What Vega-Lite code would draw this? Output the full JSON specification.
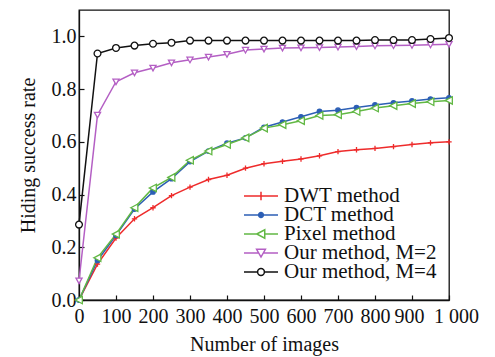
{
  "$schema": "https://vega.github.io/schema/vega-lite/v6.json",
  "autosize": "none",
  "width": 370,
  "height": 290,
  "padding": {"left": 79, "top": 10, "right": 46, "bottom": 57},
  "background": "white",
  "config": {
    "view": {"stroke": "#111111", "strokeWidth": 1.3},
    "font": "Liberation Serif",
    "axis": {
      "labelFont": "Liberation Serif", "titleFont": "Liberation Serif",
      "labelFontSize": 20, "titleFontSize": 20, "labelColor": "#111", "titleColor": "#111",
      "titleFontWeight": "normal", "grid": false, "domainColor": "#111", "tickColor": "#111",
      "tickSize": -5, "tickWidth": 1.2, "domainWidth": 1.3
    }
  },
  "data": {"values": [
    {"method": "DWT method", "images": 0, "rate": 0},
    {"method": "DWT method", "images": 50, "rate": 0.136},
    {"method": "DWT method", "images": 100, "rate": 0.235},
    {"method": "DWT method", "images": 150, "rate": 0.308},
    {"method": "DWT method", "images": 200, "rate": 0.35},
    {"method": "DWT method", "images": 250, "rate": 0.396},
    {"method": "DWT method", "images": 300, "rate": 0.428},
    {"method": "DWT method", "images": 350, "rate": 0.457},
    {"method": "DWT method", "images": 400, "rate": 0.473},
    {"method": "DWT method", "images": 450, "rate": 0.5},
    {"method": "DWT method", "images": 500, "rate": 0.517},
    {"method": "DWT method", "images": 550, "rate": 0.526},
    {"method": "DWT method", "images": 600, "rate": 0.535},
    {"method": "DWT method", "images": 650, "rate": 0.547},
    {"method": "DWT method", "images": 700, "rate": 0.563},
    {"method": "DWT method", "images": 750, "rate": 0.57},
    {"method": "DWT method", "images": 800, "rate": 0.575},
    {"method": "DWT method", "images": 850, "rate": 0.582},
    {"method": "DWT method", "images": 900, "rate": 0.59},
    {"method": "DWT method", "images": 950, "rate": 0.596},
    {"method": "DWT method", "images": 1000, "rate": 0.6},
    {"method": "DCT method", "images": 0, "rate": 0},
    {"method": "DCT method", "images": 50, "rate": 0.15},
    {"method": "DCT method", "images": 100, "rate": 0.245},
    {"method": "DCT method", "images": 150, "rate": 0.345},
    {"method": "DCT method", "images": 200, "rate": 0.41},
    {"method": "DCT method", "images": 250, "rate": 0.46},
    {"method": "DCT method", "images": 300, "rate": 0.525},
    {"method": "DCT method", "images": 350, "rate": 0.565},
    {"method": "DCT method", "images": 400, "rate": 0.595},
    {"method": "DCT method", "images": 450, "rate": 0.615},
    {"method": "DCT method", "images": 500, "rate": 0.655},
    {"method": "DCT method", "images": 550, "rate": 0.675},
    {"method": "DCT method", "images": 600, "rate": 0.695},
    {"method": "DCT method", "images": 650, "rate": 0.715},
    {"method": "DCT method", "images": 700, "rate": 0.72},
    {"method": "DCT method", "images": 750, "rate": 0.73},
    {"method": "DCT method", "images": 800, "rate": 0.74},
    {"method": "DCT method", "images": 850, "rate": 0.748},
    {"method": "DCT method", "images": 900, "rate": 0.755},
    {"method": "DCT method", "images": 950, "rate": 0.762},
    {"method": "DCT method", "images": 1000, "rate": 0.767},
    {"method": "Pixel method", "images": 0, "rate": 0},
    {"method": "Pixel method", "images": 50, "rate": 0.16},
    {"method": "Pixel method", "images": 100, "rate": 0.25},
    {"method": "Pixel method", "images": 150, "rate": 0.35},
    {"method": "Pixel method", "images": 200, "rate": 0.425},
    {"method": "Pixel method", "images": 250, "rate": 0.465},
    {"method": "Pixel method", "images": 300, "rate": 0.53},
    {"method": "Pixel method", "images": 350, "rate": 0.565},
    {"method": "Pixel method", "images": 400, "rate": 0.59},
    {"method": "Pixel method", "images": 450, "rate": 0.615},
    {"method": "Pixel method", "images": 500, "rate": 0.652},
    {"method": "Pixel method", "images": 550, "rate": 0.665},
    {"method": "Pixel method", "images": 600, "rate": 0.68},
    {"method": "Pixel method", "images": 650, "rate": 0.7},
    {"method": "Pixel method", "images": 700, "rate": 0.703},
    {"method": "Pixel method", "images": 750, "rate": 0.715},
    {"method": "Pixel method", "images": 800, "rate": 0.728},
    {"method": "Pixel method", "images": 850, "rate": 0.737},
    {"method": "Pixel method", "images": 900, "rate": 0.745},
    {"method": "Pixel method", "images": 950, "rate": 0.752},
    {"method": "Pixel method", "images": 1000, "rate": 0.757},
    {"method": "Our method, M=2", "images": 0, "rate": 0.073},
    {"method": "Our method, M=2", "images": 50, "rate": 0.702},
    {"method": "Our method, M=2", "images": 100, "rate": 0.828},
    {"method": "Our method, M=2", "images": 150, "rate": 0.862},
    {"method": "Our method, M=2", "images": 200, "rate": 0.88},
    {"method": "Our method, M=2", "images": 250, "rate": 0.9},
    {"method": "Our method, M=2", "images": 300, "rate": 0.911},
    {"method": "Our method, M=2", "images": 350, "rate": 0.922},
    {"method": "Our method, M=2", "images": 400, "rate": 0.932},
    {"method": "Our method, M=2", "images": 450, "rate": 0.948},
    {"method": "Our method, M=2", "images": 500, "rate": 0.952},
    {"method": "Our method, M=2", "images": 550, "rate": 0.956},
    {"method": "Our method, M=2", "images": 600, "rate": 0.957},
    {"method": "Our method, M=2", "images": 650, "rate": 0.958},
    {"method": "Our method, M=2", "images": 700, "rate": 0.96},
    {"method": "Our method, M=2", "images": 750, "rate": 0.962},
    {"method": "Our method, M=2", "images": 800, "rate": 0.964},
    {"method": "Our method, M=2", "images": 850, "rate": 0.965},
    {"method": "Our method, M=2", "images": 900, "rate": 0.966},
    {"method": "Our method, M=2", "images": 950, "rate": 0.968},
    {"method": "Our method, M=2", "images": 1000, "rate": 0.97},
    {"method": "Our method, M=4", "images": 0, "rate": 0.286},
    {"method": "Our method, M=4", "images": 50, "rate": 0.935},
    {"method": "Our method, M=4", "images": 100, "rate": 0.956},
    {"method": "Our method, M=4", "images": 150, "rate": 0.965},
    {"method": "Our method, M=4", "images": 200, "rate": 0.972},
    {"method": "Our method, M=4", "images": 250, "rate": 0.976},
    {"method": "Our method, M=4", "images": 300, "rate": 0.984},
    {"method": "Our method, M=4", "images": 350, "rate": 0.984},
    {"method": "Our method, M=4", "images": 400, "rate": 0.984},
    {"method": "Our method, M=4", "images": 450, "rate": 0.984},
    {"method": "Our method, M=4", "images": 500, "rate": 0.984},
    {"method": "Our method, M=4", "images": 550, "rate": 0.984},
    {"method": "Our method, M=4", "images": 600, "rate": 0.984},
    {"method": "Our method, M=4", "images": 650, "rate": 0.984},
    {"method": "Our method, M=4", "images": 700, "rate": 0.984},
    {"method": "Our method, M=4", "images": 750, "rate": 0.984},
    {"method": "Our method, M=4", "images": 800, "rate": 0.986},
    {"method": "Our method, M=4", "images": 850, "rate": 0.986},
    {"method": "Our method, M=4", "images": 900, "rate": 0.986},
    {"method": "Our method, M=4", "images": 950, "rate": 0.99},
    {"method": "Our method, M=4", "images": 1000, "rate": 0.994}
  ]},
  "encoding": {
    "x": {"field": "images", "type": "quantitative",
      "scale": {"domain": [0, 1000], "nice": false},
      "axis": {"title": "Number of images", "values": [0,100,200,300,400,500,600,700,800,900,1000],
        "labelExpr": "datum.value == 1000 ? '1 000' : datum.label", "labelPadding": 11, "titlePadding": 8,
        "labelFlush": false, "labelOverlap": false,
        "encoding": {"labels": {"dx": {"value": {"signal": "datum.value == 1000 ? 7 : (datum.value == 900 ? -3 : 0)"}}}}}},
    "y": {"field": "rate", "type": "quantitative",
      "scale": {"domain": [0, 1.1], "nice": false},
      "axis": {"title": "Hiding success rate", "values": [0,0.2,0.4,0.6,0.8,1.0], "format": ".1f",
        "labelPadding": 8, "titlePadding": 13, "labelFlush": false}}
  },
  "layer": [
    {
      "mark": {"type": "line", "strokeWidth": 1.5},
      "encoding": {
        "stroke": {"field": "method", "type": "nominal",
          "scale": {"domain": ["DWT method", "DCT method", "Pixel method", "Our method, M=2", "Our method, M=4"],
            "range": ["#ee2b2b", "#2c5fb5", "#62b844", "#b45fc4", "#111111"]},
          "legend": {"title": null, "orient": "none", "legendX": 164, "legendY": 177,
            "labelFont": "Liberation Serif", "labelFontSize": 21, "labelColor": "#111",
            "symbolSize": 1156, "clipHeight": 18, "rowPadding": -2.5, "labelOffset": 5, "labelLimit": 300,
            "encoding": {"symbols": {
              "shape": {"value": {"signal": "datum.value === 'DWT method' ? 'M-1,0H1M0,-0.25V0.25' : datum.value === 'DCT method' ? 'M-1,0H1M-0.14,0A0.14,0.14,0,1,1,0.14,0A0.14,0.14,0,1,1,-0.14,0Z' : datum.value === 'Pixel method' ? 'M-1,0H-0.25M0.22,0H1M-0.25,0L0.22,-0.25L0.22,0.25Z' : datum.value === 'Our method, M=2' ? 'M-1,0H-0.14M0.14,0H1M-0.26,-0.22L0.26,-0.22L0,0.24Z' : 'M-1,0H-0.2M0.2,0H1M-0.2,0A0.2,0.2,0,1,1,0.2,0A0.2,0.2,0,1,1,-0.2,0Z'"}},
              "fill": {"value": {"signal": "datum.value === 'DCT method' ? '#2c5fb5' : 'white'"}},
              "stroke": {"value": {"signal": "scale('stroke', datum.value)"}},
              "strokeWidth": {"value": 1.5},
              "size": {"value": 1156},
              "opacity": {"value": 1}
            }}}}
      }
    },
    {
      "mark": {"type": "point", "filled": false, "size": 55, "strokeWidth": 1.3, "opacity": 1},
      "encoding": {
        "color": {"field": "method", "type": "nominal", "legend": null,
          "scale": {"range": ["#2c5fb5", "#ee2b2b", "#b45fc4", "#111111", "#62b844"]}},
        "shape": {"field": "method", "type": "nominal", "legend": null,
          "scale": {"range": ["circle", "M-1,0H1M0,-1V1", "M-1,-0.85L1,-0.85L0,0.95Z", "circle", "M-1,0L0.9,-1L0.9,1Z"]}},
        "fill": {"field": "method", "type": "nominal", "legend": null,
          "scale": {"range": ["#2c5fb5", "transparent", "white", "white", "white"]}},
        "size": {"field": "method", "type": "nominal", "legend": null,
          "scale": {"range": [20, 55, 48, 40, 48]}}
      }
    }
  ]
}
